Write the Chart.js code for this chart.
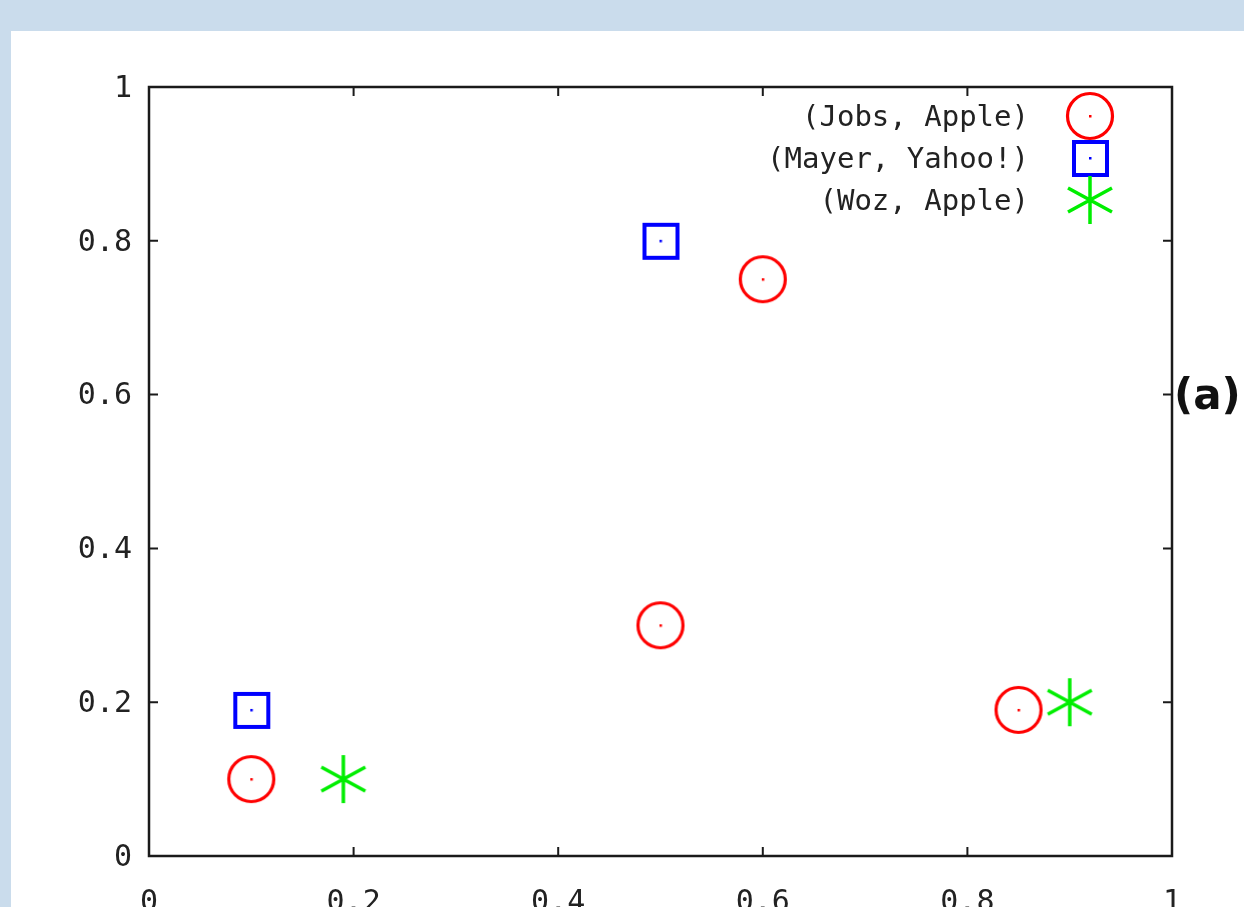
<!DOCTYPE html>
<html>
<head>
<meta charset="utf-8">
<script src="https://cdn.jsdelivr.net/npm/chart.js@4.4.0/dist/chart.umd.min.js"></script>
<style>
  html, body { margin: 0; padding: 0; overflow: hidden; }
  body { background: #cadcec; width: 1244px; height: 907px; position: relative; }
  #panel { position: absolute; left: 11px; top: 31px; width: 1233px; height: 905px; background: #fff; }
</style>
</head>
<body>
<div id="panel"><canvas id="chart"></canvas></div>
<script>
// data

const seriesNames = ['(Jobs, Apple)', '(Mayer, Yahoo!)', '(Woz, Apple)']

const jobsX = [0.1, 0.5, 0.6, 0.85]
const jobsY = [0.1, 0.3, 0.75, 0.19]

const mayerX = [0.1, 0.5]
const mayerY = [0.19, 0.8]

const wozX = [0.19, 0.9]
const wozY = [0.1, 0.2]

const xTickLabels = ['0', '0.2', '0.4', '0.6', '0.8', '1']
const yTickLabels = ['0', '0.2', '0.4', '0.6', '0.8', '1']

const panelLabel = '(a)'

const toPoints = (xs, ys) => xs.map((x, i) => ({ x, y: ys[i] }))

// markers

function makeMarker(draw) {
  const c = document.createElement('canvas')
  c.width = 54
  c.height = 54
  const ctx = c.getContext('2d')
  ctx.translate(27, 27)
  draw(ctx)
  return c
}

const circleMarker = makeMarker(ctx => {
  ctx.strokeStyle = '#ff0000'
  ctx.lineWidth = 3.2
  ctx.beginPath()
  ctx.arc(0, 0, 22.5, 0, Math.PI * 2)
  ctx.stroke()
  ctx.fillStyle = '#ff0000'
  ctx.fillRect(-1, -1, 2.5, 2.5)
})

const squareMarker = makeMarker(ctx => {
  ctx.strokeStyle = '#0000ff'
  ctx.lineWidth = 4
  ctx.strokeRect(-16, -16, 33, 33)
  ctx.fillStyle = '#0000ff'
  ctx.fillRect(-1, -1, 2.5, 2.5)
})

const starMarker = makeMarker(ctx => {
  ctx.strokeStyle = '#00ee00'
  ctx.lineWidth = 3.5
  ctx.beginPath()
  ctx.moveTo(0, -24); ctx.lineTo(0, 24)
  ctx.moveTo(-22, -12); ctx.lineTo(22, 12)
  ctx.moveTo(-22, 12); ctx.lineTo(22, -12)
  ctx.stroke()
})

// plugins

const axisColor = '#1a1a1a'

const boxAndTicks = {
  id: 'boxAndTicks',
  afterDraw(chart) {
    const { ctx, chartArea: a, scales } = chart
    const len = 9
    ctx.save()
    ctx.strokeStyle = axisColor
    ctx.lineWidth = 2.5
    ctx.strokeRect(a.left, a.top, a.right - a.left, a.bottom - a.top)
    ctx.lineWidth = 2
    ctx.beginPath()
    scales.x.ticks.forEach(t => {
      const px = scales.x.getPixelForValue(t.value)
      ctx.moveTo(px, a.bottom); ctx.lineTo(px, a.bottom - len)
      ctx.moveTo(px, a.top); ctx.lineTo(px, a.top + len)
    })
    scales.y.ticks.forEach(t => {
      const py = scales.y.getPixelForValue(t.value)
      ctx.moveTo(a.left, py); ctx.lineTo(a.left + len, py)
      ctx.moveTo(a.right, py); ctx.lineTo(a.right - len, py)
    })
    ctx.stroke()
    ctx.restore()
  }
}

const keyBox = {
  id: 'keyBox',
  afterDraw(chart) {
    const { ctx, chartArea: a } = chart
    ctx.save()
    ctx.font = '29px "DejaVu Sans Mono"'
    ctx.fillStyle = '#222'
    ctx.textAlign = 'right'
    ctx.textBaseline = 'middle'
    chart.data.datasets.forEach((ds, i) => {
      const y = a.top + 30 + i * 42
      ctx.fillText(ds.label, a.right - 143, y + 1)
      const m = ds.pointStyle
      ctx.drawImage(m, a.right - 82 - m.width / 2, y - 1 - m.height / 2)
    })
    ctx.restore()
  }
}

const sideLabel = {
  id: 'sideLabel',
  afterDraw(chart) {
    const { ctx, chartArea: a, scales } = chart
    ctx.save()
    ctx.font = 'bold 42px "DejaVu Sans"'
    ctx.fillStyle = '#111'
    ctx.textAlign = 'left'
    ctx.textBaseline = 'middle'
    ctx.fillText(panelLabel, a.right + 2, scales.y.getPixelForValue(0.6) + 3)
    ctx.restore()
  }
}

// chart

const canvas = document.getElementById('chart')
canvas.width = 1233
canvas.height = 905

Chart.defaults.font.family = '"DejaVu Sans Mono"'
Chart.defaults.font.size = 30
Chart.defaults.color = '#222'

new Chart(canvas, {
  type: 'scatter',
  data: {
    datasets: [
      { label: seriesNames[0], data: toPoints(jobsX, jobsY), pointStyle: circleMarker },
      { label: seriesNames[1], data: toPoints(mayerX, mayerY), pointStyle: squareMarker },
      { label: seriesNames[2], data: toPoints(wozX, wozY), pointStyle: starMarker }
    ]
  },
  options: {
    responsive: false,
    animation: false,
    clip: false,
    layout: { padding: { left: 0, top: 56, right: 72, bottom: 0 } },
    plugins: {
      legend: { display: false },
      tooltip: { enabled: false }
    },
    scales: {
      x: {
        type: 'linear',
        min: 0,
        max: 1,
        grid: { display: false, drawTicks: false },
        border: { display: false },
        afterFit: s => { s.height = 80 },
        ticks: {
          stepSize: 0.2,
          padding: 29,
          maxRotation: 0,
          callback: (v, i) => xTickLabels[i]
        }
      },
      y: {
        type: 'linear',
        min: 0,
        max: 1,
        grid: { display: false, drawTicks: false },
        border: { display: false },
        afterFit: s => { s.width = 138 },
        ticks: {
          stepSize: 0.2,
          padding: 17,
          labelOffset: 2,
          callback: (v, i) => yTickLabels[i]
        }
      }
    }
  },
  plugins: [boxAndTicks, keyBox, sideLabel]
})
</script>
</body>
</html>
